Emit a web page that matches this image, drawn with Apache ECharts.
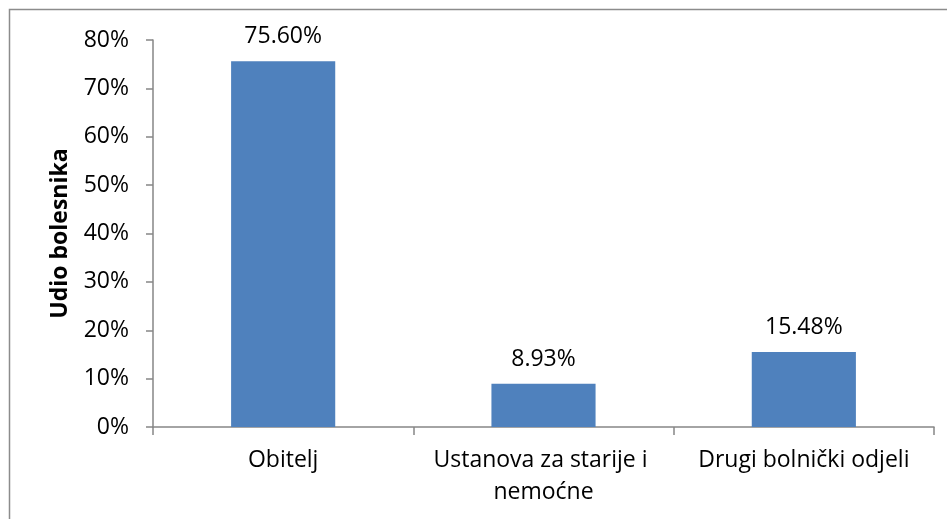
<!DOCTYPE html>
<html>
<head>
<meta charset="utf-8">
<script src="https://cdn.jsdelivr.net/npm/echarts@6/dist/echarts.min.js"></script>
<style>
  html, body { margin: 0; padding: 0; background: #fff; }
  #chart { width: 947px; height: 519px; }
</style>
</head>
<body>
<div id="chart"></div>
<script>
const categories = ['Obitelj', 'Ustanova za starije i nemoćne', 'Drugi bolnički odjeli'];
const shares = [75.60, 8.93, 15.48];
const yTicks = [0, 10, 20, 30, 40, 50, 60, 70, 80];

const font = '"Open Sans", "Liberation Sans", sans-serif';
const axisGray = '#868686';

const chart = echarts.init(document.getElementById('chart'));
chart.setOption({
  animation: false,
  textStyle: { fontFamily: font },
  graphic: [{
    type: 'rect',
    shape: { x: 9.5, y: 9.5, width: 960, height: 540 },
    style: { fill: 'none', stroke: '#8c8c8c', lineWidth: 1.5 },
    silent: true
  }],
  grid: { left: 153, right: 13, top: 40, bottom: 92 },
  xAxis: {
    type: 'category',
    data: categories,
    axisLine: { lineStyle: { color: axisGray, width: 1.5 } },
    axisTick: { show: true, length: 8, lineStyle: { color: axisGray, width: 1.5 } },
    axisLabel: {
      color: '#000', fontSize: 23, fontFamily: font, margin: 17,
      lineHeight: 32, width: 250, overflow: 'break', interval: 0
    }
  },
  yAxis: {
    type: 'value',
    min: yTicks[0],
    max: yTicks[yTicks.length - 1],
    interval: 10,
    name: 'Udio bolesnika',
    nameLocation: 'middle',
    nameGap: 81,
    nameTextStyle: { color: '#000', fontSize: 23, fontWeight: 'bold', fontFamily: font },
    axisLine: { show: true, lineStyle: { color: axisGray, width: 1.5 } },
    axisTick: { show: true, length: 7, lineStyle: { color: axisGray, width: 1.5 } },
    splitLine: { show: false },
    axisLabel: {
      color: '#000', fontSize: 23, fontFamily: font, margin: 24,
      formatter: v => v + '%'
    }
  },
  series: [{
    type: 'bar',
    data: shares,
    barWidth: '40%',
    itemStyle: { color: '#4F81BD' },
    label: {
      show: true,
      position: 'top',
      distance: 13,
      color: '#000',
      fontSize: 23,
      fontFamily: font,
      formatter: p => p.value.toFixed(2) + '%'
    }
  }]
});
</script>
</body>
</html>
